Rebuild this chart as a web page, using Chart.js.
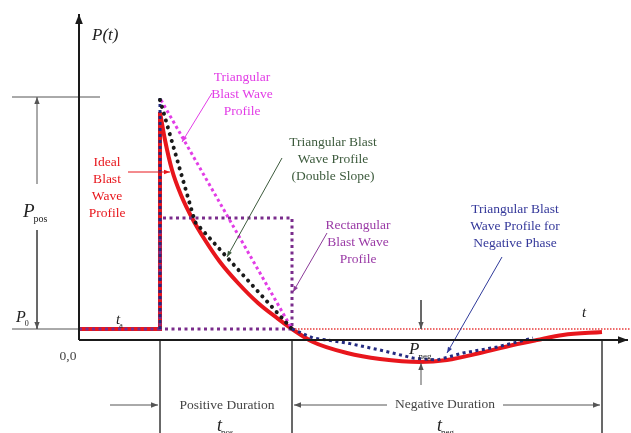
<!DOCTYPE html>
<html><head><meta charset="utf-8">
<script src="https://cdn.jsdelivr.net/npm/chart.js@4.4.0/dist/chart.umd.min.js"></script>
<style>html,body{margin:0;padding:0;background:#fff}#wrap{width:631px;height:433px;position:relative}</style>
</head><body><div id="wrap"><canvas id="c"></canvas></div>
<script>
// ---- Data (time t on x, pressure P on y, arbitrary diagram units) ----
const tA = 8.1;          // arrival time
const tPosEnd = 21.3;    // end of positive phase
const tNegEnd = 52.3;    // end of negative phase
const P0 = 1.1;          // ambient pressure
const Ppeak = 24.3;      // peak pressure

const idealRiseT = [0, 8.1, 8.1];
const idealRiseP = [1.1, 1.1, 22.8];
const idealT = [8.1, 8.6, 9.3, 10.2, 11.3, 12.6, 14.1, 15.9, 17.9, 19.8, 21.3, 23.4, 26.8, 30.1, 34.1, 36.8, 40.1, 43.4, 45.8, 48.4, 52.3];
const idealP = [22.8, 20.0, 17.0, 14.5, 12.2, 10.0, 7.8, 5.7, 3.7, 2.2, 1.1, -0.2, -1.3, -1.9, -2.2, -2.0, -1.3, -0.5, 0.0, 0.5, 0.8];
const triT = [8.2, 21.3];
const triP = [24.0, 1.1];
const dblT = [8.1, 11.6, 21.3];
const dblP = [24.0, 11.8, 1.1];
const rectT = [0, 8.1, 8.1, 21.3, 21.3, 8.1];
const rectP = [1.1, 1.1, 12.2, 12.2, 1.1, 1.1];
const negT = [21.3, 23.4, 26.8, 30.1, 33.4, 35.8, 38.4, 41.8, 45.4];
const negP = [1.1, 0.2, -0.3, -1.0, -1.8, -2.0, -1.3, -0.7, 0.2];
const peakT = [8.1, 8.1];
const peakP = [1.1, 24.3];
const Pneg = -2.3;

// ---- helpers ----
const pts = (T, P) => T.map((t, i) => ({x: t, y: P[i]}));
const seg = (x1, y1, x2, y2) => [{x: x1, y: y1}, {x: x2, y: y2}];

const RED = '#e8161c', MAG = '#e23de6', BLK = '#1a1a1a', PUR = '#7a2c8c', NAVY = '#232a80', GRAY = '#555';

function line(data, color, width, dash, order, extra) {
  return Object.assign({data, showLine: true, borderColor: color, backgroundColor: color,
    borderWidth: width, borderDash: dash || [], pointRadius: 0, tension: 0, order}, extra || {});
}

const datasets = [
  // profiles
  line(pts(idealRiseT, idealRiseP), RED, 4, null, 20),
  line(pts(idealT, idealP), RED, 4, null, 19, {cubicInterpolationMode: 'monotone'}),
  line(pts([tPosEnd, 55.2], [P0, P0]), '#ee6a6a', 2, [1.5, 1.5], 18),
  line(pts(rectT, rectP), PUR, 3, [3, 3.5], 10),
  line(pts(peakT, peakP), NAVY, 3, [3, 3], 9),
  line(pts(triT, triP), MAG, 3, [3, 3], 8),
  line(pts(dblT, dblP), BLK, 4, [0.1, 7], 7, {borderCapStyle: 'round'}),
  line(pts(negT, negP), NAVY, 3, [3, 3.5], 6),
  // axes
  line(seg(0, 0, 0, 32.6), BLK, 2, null, 1, {arrowEnd: 10}),
  line(seg(0, 0, 54.9, 0), BLK, 2, null, 1, {arrowEnd: 10}),
  // dimension lines (grey)
  line(seg(-6.7, Ppeak, 2.1, Ppeak), GRAY, 1, null, 2),
  line(seg(-6.7, P0, 0, P0), GRAY, 1, null, 2),
  line(seg(-4.2, 15.6, -4.2, Ppeak), GRAY, 1, null, 2, {arrowEnd: 7}),
  line(seg(-4.2, 11.0, -4.2, P0), GRAY, 1, null, 2, {arrowEnd: 7}),
  line(seg(34.2, 4.0, 34.2, P0), GRAY, 1, null, 2, {arrowEnd: 7}),
  line(seg(34.2, -4.5, 34.2, Pneg), GRAY, 1, null, 2, {arrowEnd: 7}),
  line(seg(tA, 0, tA, -9.3), GRAY, 1, null, 2),
  line(seg(tPosEnd, 0, tPosEnd, -9.3), GRAY, 1, null, 2),
  line(seg(tNegEnd, 0, tNegEnd, -9.3), GRAY, 1, null, 2),
  line(seg(3.1, -6.5, 7.9, -6.5), GRAY, 1, null, 2, {arrowEnd: 7}),
  line(seg(30.8, -6.5, 21.5, -6.5), GRAY, 1, null, 2, {arrowEnd: 7}),
  line(seg(42.4, -6.5, 52.1, -6.5), GRAY, 1, null, 2, {arrowEnd: 7}),
  // label pointers
  line(seg(13.3, 24.7, 10.3, 19.8), MAG, 1, null, 3, {arrowEnd: 6}),
  line(seg(4.9, 16.8, 9.1, 16.8), RED, 1, null, 3, {arrowEnd: 6}),
  line(seg(20.3, 18.2, 14.8, 8.3), '#3c5a3c', 1, null, 3, {arrowEnd: 6}),
  line(seg(24.8, 10.7, 21.4, 4.8), '#8a3a98', 1, null, 3, {arrowEnd: 6}),
  line(seg(42.3, 8.3, 36.8, -1.3), '#2f3a9a', 1, null, 3, {arrowEnd: 6}),
];

// text labels: [lines, x, y, color]
const SERIF = '"Liberation Serif", "DejaVu Serif", serif';
const blockLabels = [
  [['Triangular', 'Blast Wave', 'Profile'], 16.3, 26.3, MAG],
  [['Ideal', 'Blast', 'Wave', 'Profile'], 2.8, 17.8, RED],
  [['Triangular Blast', 'Wave Profile', '(Double Slope)'], 25.4, 19.8, '#3c5a3c'],
  [['Rectangular', 'Blast Wave', 'Profile'], 27.9, 11.5, '#9a3aa6'],
  [['Triangular Blast', 'Wave Profile for', 'Negative Phase'], 43.6, 13.1, '#34389a'],
];
const durationLabels = [['Positive Duration', 14.8, -6.5], ['Negative Duration', 36.6, -6.4]];
const symLabels = [ // [main, subscript, x, y, size]
  ['P(t)', '', 1.3, 30.4, 17],
  ['P', 'pos', -5.6, 12.8, 19],
  ['P', '0', -6.3, 2.2, 16],
  ['t', 'a', 3.7, 2.0, 15],
  ['t', '', 50.3, 2.7, 15],
  ['P', 'neg', 33.0, -1.0, 17],
  ['t', 'pos', 13.8, -8.6, 18],
  ['t', 'neg', 35.8, -8.6, 18],
];

const overlay = {
  id: 'overlay',
  afterDatasetsDraw(chart) {
    const ctx = chart.ctx, xs = chart.scales.x, ys = chart.scales.y;
    const X = v => xs.getPixelForValue(v), Y = v => ys.getPixelForValue(v);
    ctx.save();
    // arrowheads
    chart.data.datasets.forEach((ds, i) => {
      if (!ds.arrowEnd) return;
      const d = chart.getDatasetMeta(i).data;
      const a = d[d.length - 2], b = d[d.length - 1];
      const ang = Math.atan2(b.y - a.y, b.x - a.x), L = ds.arrowEnd, W = L * 0.38;
      ctx.fillStyle = ds.borderColor;
      ctx.beginPath();
      ctx.moveTo(b.x, b.y);
      ctx.lineTo(b.x - L * Math.cos(ang) + W * Math.sin(ang), b.y - L * Math.sin(ang) - W * Math.cos(ang));
      ctx.lineTo(b.x - L * Math.cos(ang) - W * Math.sin(ang), b.y - L * Math.sin(ang) + W * Math.cos(ang));
      ctx.closePath();
      ctx.fill();
    });
    // block labels
    ctx.textAlign = 'center';
    ctx.textBaseline = 'middle';
    ctx.font = '13.5px ' + SERIF;
    blockLabels.forEach(([lines, x, y, c]) => {
      ctx.fillStyle = c;
      lines.forEach((s, k) => ctx.fillText(s, X(x), Y(y) + k * 17));
    });
    durationLabels.forEach(([s, x, y]) => {
      const w = ctx.measureText(s).width;
      ctx.fillStyle = '#fff';
      ctx.fillRect(X(x) - w / 2 - 4, Y(y) - 7, w + 8, 14);
      ctx.fillStyle = '#444';
      ctx.fillText(s, X(x), Y(y));
    });
    ctx.fillStyle = '#444';
    ctx.fillText('0,0', X(-1.1), Y(-1.6));
    // symbols
    ctx.textAlign = 'left';
    symLabels.forEach(([m, sub, x, y, sz]) => {
      ctx.fillStyle = '#222';
      ctx.font = 'italic ' + sz + 'px ' + SERIF;
      const w = ctx.measureText(m).width;
      ctx.fillText(m, X(x), Y(y));
      if (sub) {
        ctx.font = Math.round(sz * 0.5) + 'px ' + SERIF;
        ctx.fillText(sub, X(x) + w - 1, Y(y) + sz * 0.38);
      }
    });
    ctx.restore();
  }
};

new Chart(document.getElementById('c'), {
  type: 'scatter',
  data: {datasets},
  options: {
    responsive: true, maintainAspectRatio: false, animation: false,
    layout: {padding: 0},
    plugins: {legend: {display: false}, tooltip: {enabled: false}},
    events: [],
    scales: {
      x: {type: 'linear', min: -7.9, max: 55.2, display: false},
      y: {type: 'linear', min: -9.3, max: 34.0, display: false}
    }
  },
  plugins: [overlay]
});
</script></body></html>
